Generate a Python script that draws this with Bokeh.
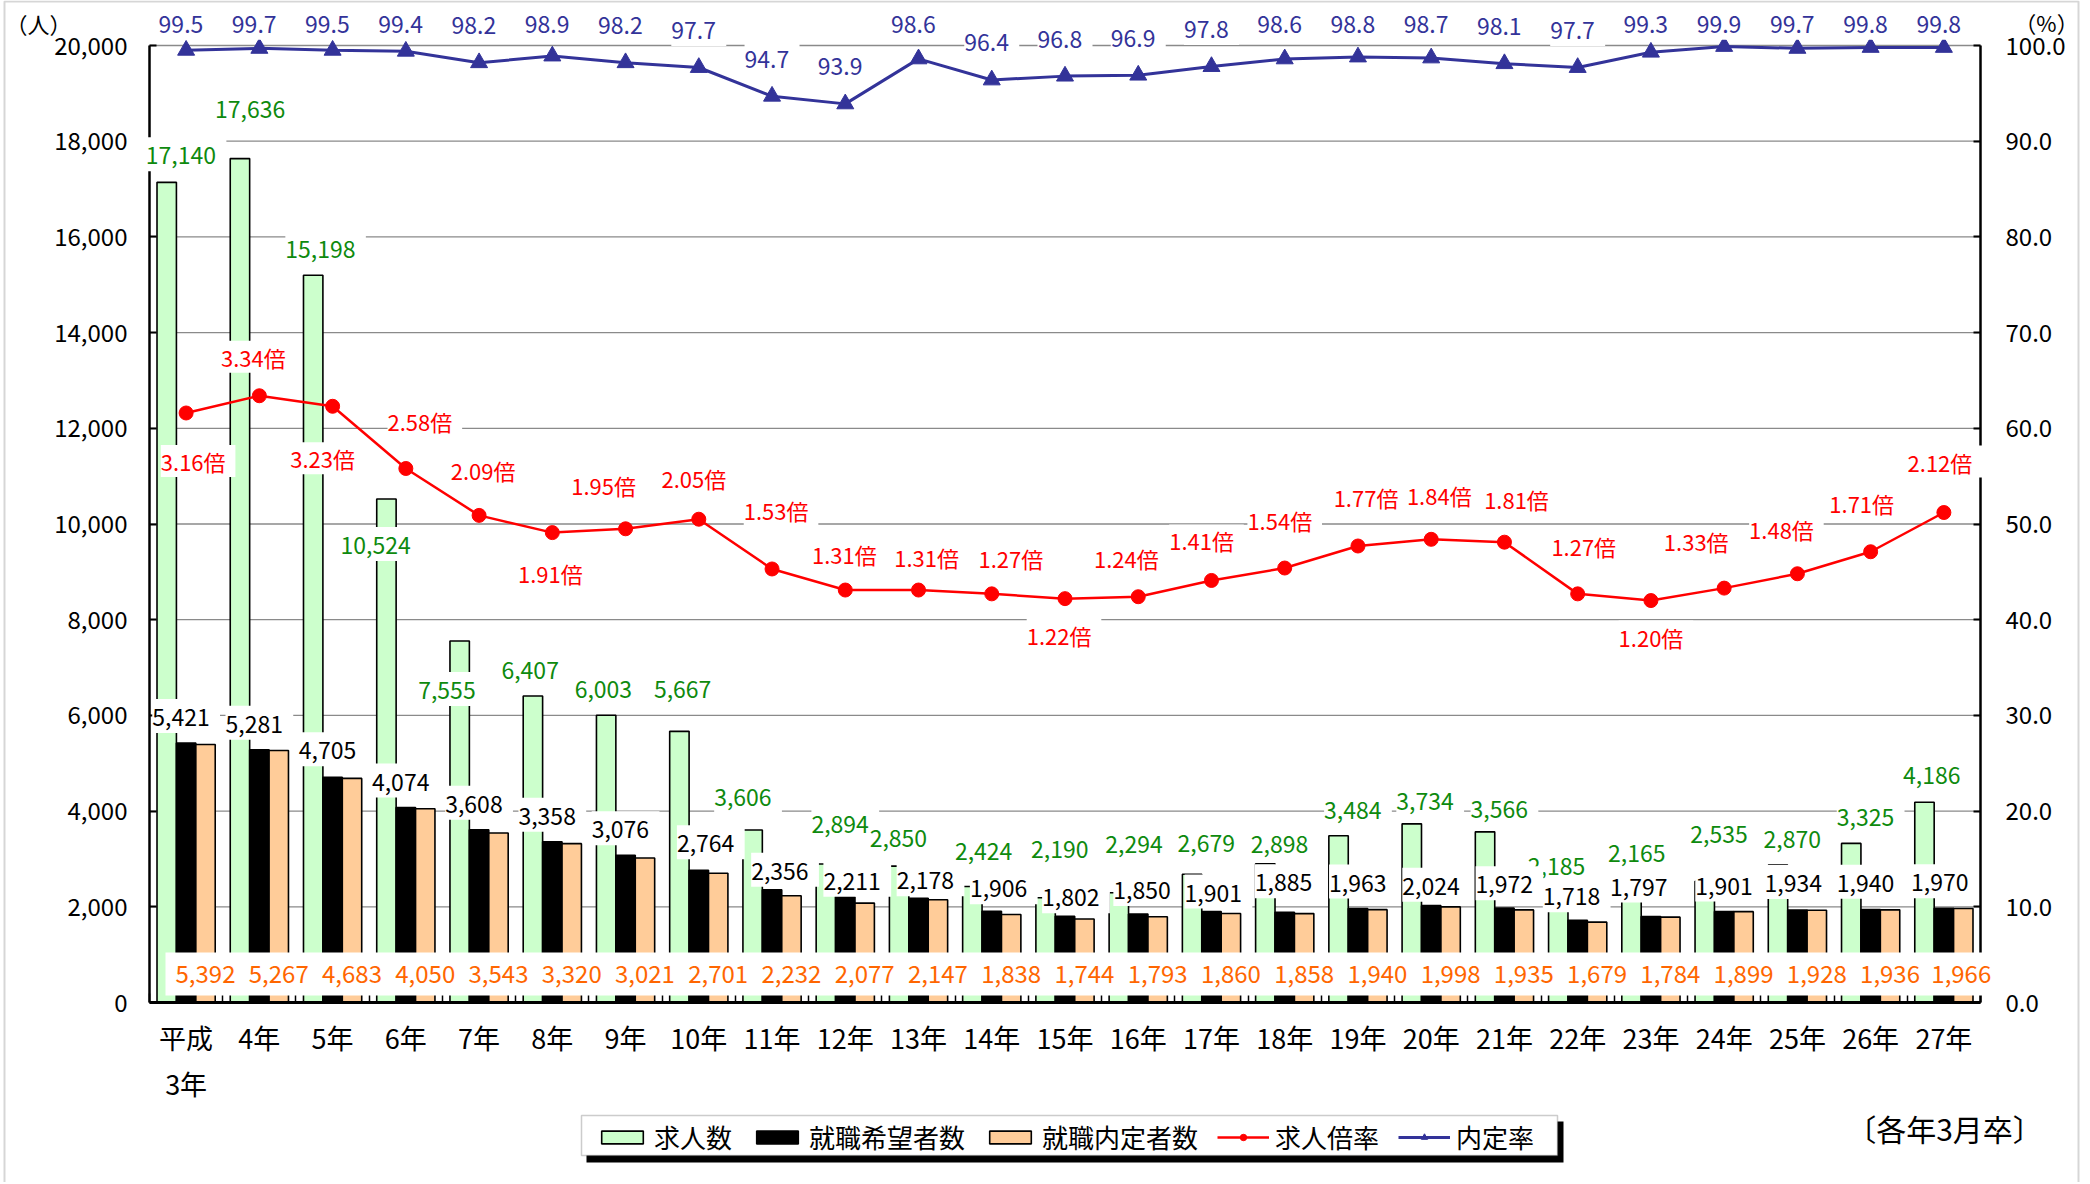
import numpy as np
from bokeh.plotting import figure
from bokeh.models import (ColumnDataSource, Range1d, LinearAxis, FixedTicker, NumeralTickFormatter,
                          LabelSet, Label, Legend, LegendItem, BoxAnnotation)
from bokeh.core.properties import value
from bokeh.transform import dodge
from bokeh.embed import file_html
from bokeh.resources import INLINE

# ---------------- data ----------------
years = ["平成\n3年", "4年", "5年", "6年", "7年", "8年", "9年", "10年", "11年", "12年", "13年", "14年",
         "15年", "16年", "17年", "18年", "19年", "20年", "21年", "22年", "23年", "24年", "25年", "26年", "27年"]
openings = [17140, 17636, 15198, 10524, 7555, 6407, 6003, 5667, 3606, 2894, 2850, 2424,
            2190, 2294, 2679, 2898, 3484, 3734, 3566, 2185, 2165, 2535, 2870, 3325, 4186]
applicants = [5421, 5281, 4705, 4074, 3608, 3358, 3076, 2764, 2356, 2211, 2178, 1906,
              1802, 1850, 1901, 1885, 1963, 2024, 1972, 1718, 1797, 1901, 1934, 1940, 1970]
placed = [5392, 5267, 4683, 4050, 3543, 3320, 3021, 2701, 2232, 2077, 2147, 1838,
          1744, 1793, 1860, 1858, 1940, 1998, 1935, 1679, 1784, 1899, 1928, 1936, 1966]
ratio = [3.16, 3.34, 3.23, 2.58, 2.09, 1.91, 1.95, 2.05, 1.53, 1.31, 1.31, 1.27,
         1.22, 1.24, 1.41, 1.54, 1.77, 1.84, 1.81, 1.27, 1.20, 1.33, 1.48, 1.71, 2.12]
rate = [99.5, 99.7, 99.5, 99.4, 98.2, 98.9, 98.2, 97.7, 94.7, 93.9, 98.6, 96.4,
        96.8, 96.9, 97.8, 98.6, 98.8, 98.7, 98.1, 97.7, 99.3, 99.9, 99.7, 99.8, 99.8]
left_ticks = list(range(0, 20001, 2000))
right_ticks = list(range(0, 101, 10))

# label placement (screen px offsets, styling only)
g_dx = [0, -4, -7, -25, -27, -17, -17, -11, -24, 0, -15, -3, 0, 1, 0, 0, 0, -1, 0, -16, -9, 0, 0, 0, -7]
g_dy = [28, 51, 27, -45, -48, 27, 27, 43, 34, 41, 29, 37, 50, 50, 32, 21, 27, 24, 24, 33, 47, 48, 27, 27, 28]
b_dx = [0, 0, 0, 0, 0, 0, 0, 12, 13, 12, 12, 12, 11, 9, 7, 4, 5, 5, 5, -1, -7, 5, 1, 0, 1]
b_dy = [27, 27, 28, 27, 27, 27, 27, 28, 20, 17, 19, 24, 20, 25, 20, 31, 27, 21, 25, 25, 31, 27, 28, 28, 27]
r_dx = [12, -1, -5, 19, 9, 3, -17, 0, 9, 4, 13, 24, -1, -7, -5, 0, 13, 13, 17, 11, 5, -23, -11, -4, 1]
r_dy = [-48, 39, -52, 47, 45, -40, 44, 41, 59, 36, 33, 36, -36, 39, 40, 48, 49, 44, 43, 48, -36, 47, 45, 49, 51]
o_dx = [0] * 24 + [-2]

FONT = "Noto Sans CJK JP"
GREEN_FILL, ORANGE_FILL = "#CCFFCC", "#FFCC99"
GREEN_TXT, ORANGE_TXT, RED, BLUE = "#0E8A0E", "#FF6600", "#FF0000", "#333399"

# ---------------- geometry (page pixels) ----------------
PAGE_L, PAGE_T = 0, 0
W, H = 2088, 1182
PLOT_L, PLOT_R, PLOT_B, PLOT_T = 149, 1980, 1002, 45
n = len(years)
cat_px = (PLOT_R - PLOT_L) / n
ppu = (PLOT_B - PLOT_T) / 20000.0          # pixels per person
x_start = -0.5 - (PLOT_L - PAGE_L) / cat_px
x_end = x_start + W / cat_px
y_top = (PLOT_B - PAGE_T) / ppu
y_bot = -(H - (PLOT_B - PAGE_T)) / ppu
pct_f = 20000 / 100.0                      # persons per percent
rat_f = 20000 / 10.0                       # persons per ratio unit (ratio axis = pct/10 - 3)

HAS_PAD = "padding" in LabelSet.properties()


def padtxt(s):
    return s if HAS_PAD else f" {s} "


xs = np.arange(n)
rate_arr = np.array(rate)
src = ColumnDataSource(dict(
    x=xs, openings=openings, applicants=applicants, placed=placed, ratio=ratio, rate=rate,
    zero=[0] * n,
    t_open=[padtxt(f"{v:,}") for v in openings], t_app=[padtxt(f"{v:,}") for v in applicants],
    t_plc=[f"{v:,}" for v in placed], t_ratio=[padtxt(f"{v:.2f}倍") for v in ratio],
    t_rate=[padtxt(f"{v:.1f}") for v in rate],
    g_dx=g_dx, g_dy=g_dy, b_dx=b_dx, b_dy=b_dy, r_dx=r_dx, r_dy=r_dy, o_dx=o_dx,
    rate_dy=[float(v) for v in np.minimum(38.6, (100 - rate_arr) * ppu * pct_f + 22.7)],
))

p = figure(frame_width=W, frame_height=H, output_backend="svg", toolbar_location=None,
           x_range=Range1d(x_start, x_end), y_range=Range1d(y_bot, y_top),
           x_axis_type=None, y_axis_type=None,
           min_border_left=0, min_border_right=0, min_border_top=0, min_border_bottom=0)
p.outline_line_color = None
p.background_fill_color = "white"
p.border_fill_color = "white"
p.extra_y_ranges = {"pct": Range1d(y_bot / pct_f, y_top / pct_f),
                    "ratio": Range1d(y_bot / rat_f - 3, y_top / rat_f - 3)}


def scr(px, py):
    """page pixel -> frame screen coords (origin bottom-left)"""
    return px - PAGE_L, H - (py - PAGE_T)


def sbox(x0, y0, x1, y1, **kw):
    l, b = scr(x0, y1)
    r, t = scr(x1, y0)
    return BoxAnnotation(left=l, right=r, bottom=b, top=t, left_units="screen", right_units="screen",
                         bottom_units="screen", top_units="screen", **kw)


# outer frame of the chart (bottom edge runs off the picture)
p.add_layout(sbox(4, 1, 2078, 1240, fill_alpha=0, line_color="#777777", line_width=2))

# horizontal grid lines over the category span
gy = left_ticks[1:]
p.segment(x0=[-0.5] * len(gy), x1=[n - 0.5] * len(gy), y0=gy, y1=gy,
          line_color="#8a8a8a", line_width=1.3, level="underlay")

# axes (fixed at the plot-area edges)
yl = LinearAxis(ticker=FixedTicker(ticks=left_ticks), formatter=NumeralTickFormatter(format="0,0"),
                bounds=(0, 20000), fixed_location=-0.5)
yr = LinearAxis(y_range_name="pct", ticker=FixedTicker(ticks=right_ticks),
                formatter=NumeralTickFormatter(format="0.0"), bounds=(0, 100), fixed_location=n - 0.5)
for ax, st in ((yl, 22), (yr, 25)):
    ax.major_tick_in = 7
    ax.major_tick_out = 0
    ax.minor_tick_line_color = None
    ax.axis_line_width = 2.5
    ax.axis_line_color = "black"
    ax.major_tick_line_width = 2
    ax.major_label_text_font = FONT
    ax.major_label_text_font_size = "24px"
    ax.major_label_text_color = "black"
    ax.major_label_standoff = st
p.add_layout(yl, "left")
p.add_layout(yr, "right")

xt = LinearAxis(ticker=FixedTicker(ticks=[i - 0.5 for i in range(n + 1)]),
                major_label_overrides={i - 0.5: "" for i in range(n + 1)},
                bounds=(-0.5, n - 0.5), fixed_location=0)
xt.major_tick_in = 9
xt.major_tick_out = 0
xt.minor_tick_line_color = None
xt.axis_line_width = 3
xt.major_tick_line_width = 1.5
xt.major_label_text_font_size = "1px"
xt.major_label_standoff = 0
p.add_layout(xt, "below")

xl = LinearAxis(ticker=FixedTicker(ticks=list(range(n))),
                major_label_overrides={i: years[i] for i in range(n)},
                bounds=(-0.5, n - 0.5), fixed_location=0)
xl.axis_line_color = None
xl.major_tick_line_color = None
xl.minor_tick_line_color = None
xl.major_label_text_font = FONT
xl.major_label_text_font_size = "27px"
xl.major_label_text_color = "black"
xl.major_label_standoff = 9
p.add_layout(xl, "below")

# bars
BW = 0.265
r_g = p.vbar(x=dodge("x", -BW), top="openings", width=BW, fill_color=GREEN_FILL,
             line_color="black", line_width=1.6, source=src)
r_b = p.vbar(x="x", top="applicants", width=BW, fill_color="black",
             line_color="black", line_width=1.6, source=src)
r_o = p.vbar(x=dodge("x", BW), top="placed", width=BW, fill_color=ORANGE_FILL,
             line_color="black", line_width=1.6, source=src)

# lines
l_r = p.line(x="x", y="ratio", y_range_name="ratio", line_color=RED, line_width=2.5, source=src)
m_r = p.scatter(x="x", y="ratio", y_range_name="ratio", marker="circle", size=14,
                fill_color=RED, line_color=RED, source=src)
l_b = p.line(x="x", y="rate", y_range_name="pct", line_color=BLUE, line_width=3, source=src)
m_b = p.scatter(x="x", y="rate", y_range_name="pct", marker="triangle", size=17,
                fill_color=BLUE, line_color=BLUE, source=src)

# white band behind the 就職内定者数 labels
p.add_layout(sbox(165, 952, 1997, 995, fill_color="white", fill_alpha=1.0, line_color=None))


def labelset(pad, **kw):
    if HAS_PAD:
        kw["padding"] = pad
    return LabelSet(**kw)


common = dict(source=src, text_font=value(FONT), text_align="center", text_baseline="middle",
              background_fill_color="white")
p.add_layout(labelset(3, x="x", y="openings", text="t_open", x_offset="g_dx", y_offset="g_dy",
                      text_color=GREEN_TXT, text_font_size="23px", **common))
p.add_layout(labelset(3, x="x", y="applicants", text="t_app", x_offset="b_dx", y_offset="b_dy",
                      text_color="black", text_font_size="23px", **common))
p.add_layout(labelset(2, x=dodge("x", BW), y="zero", text="t_plc", x_offset="o_dx", y_offset=29,
                      text_color=ORANGE_TXT, text_font_size="24px", **common))
p.add_layout(labelset(3, x="x", y="ratio", y_range_name="ratio", text="t_ratio", x_offset="r_dx",
                      y_offset="r_dy", text_color=RED, text_font_size="22px", **common))
p.add_layout(labelset(3, x="x", y="rate", y_range_name="pct", text="t_rate", y_offset="rate_dy",
                      text_color=BLUE, text_font_size="23px", **common))

for txt, (px, py), sz in (("（人）", (38, 22), "22px"), ("（%）", (2046, 21), "22px"),
                          ("〔各年3月卒〕", (1944, 1127), "30px")):
    sx, sy = scr(px, py)
    p.add_layout(Label(x=sx, y=sy, x_units="screen", y_units="screen", text=txt,
                       text_font=FONT, text_font_size=sz, text_align="center",
                       text_baseline="middle", text_color="black"))

# legend frame with drop shadow
p.add_layout(sbox(586, 1121, 1563, 1162, fill_color="black", fill_alpha=1.0, line_color=None))
p.add_layout(sbox(581, 1115, 1557, 1155, fill_color="white", fill_alpha=1.0,
                  line_color="#555555", line_width=1.5))

legend = Legend(items=[
    LegendItem(label="求人数", renderers=[r_g]),
    LegendItem(label="就職希望者数", renderers=[r_b]),
    LegendItem(label="就職内定者数", renderers=[r_o]),
    LegendItem(label="求人倍率", renderers=[l_r, m_r]),
    LegendItem(label="内定率", renderers=[l_b, m_b]),
], orientation="horizontal")
LPAD = 3
lx, ly = scr(599 - LPAD, 1135)
legend.location = (lx, ly - 20)
legend.label_text_font = FONT
legend.label_text_font_size = "26px"
legend.label_text_color = "black"
legend.glyph_width = 52
legend.glyph_height = 16
legend.label_standoff = 6
legend.spacing = 19
legend.padding = LPAD
legend.margin = 0
legend.border_line_color = None
legend.background_fill_alpha = 0
p.add_layout(legend)

open("out.html", "w").write(file_html(p, INLINE))
